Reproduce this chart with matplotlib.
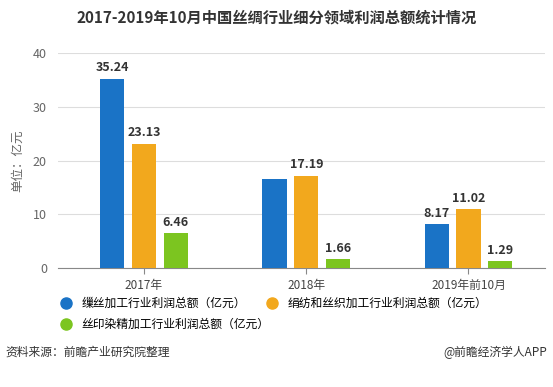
import numpy as np
import matplotlib.pyplot as plt
from matplotlib.lines import Line2D

plt.rcParams['font.family'] = ['Noto Sans CJK SC', 'DejaVu Sans']

categories = ['2017年', '2018年', '2019年前10月']
series_names = ['缫丝加工行业利润总额（亿元）', '绢纺和丝织加工行业利润总额（亿元）', '丝印染精加工行业利润总额（亿元）']
reeling = [35.24, 16.5, 8.17]
weaving = [23.13, 17.19, 11.02]
dyeing = [6.46, 1.66, 1.29]
show_label = [[True, False, True], [True, True, True], [True, True, True]]
colors = ['#1a73c6', '#f2a81d', '#7cc520']

fig = plt.figure(figsize=(5.53, 3.87), dpi=100)
ax = fig.add_axes([0.105, 0.307, 0.88, 0.556])

x = np.arange(len(categories))
width = 0.15
step = 0.196
for i, vals in enumerate([reeling, weaving, dyeing]):
    pos = x + (i - 1) * step + 0.03
    ax.bar(pos, vals, width, color=colors[i], zorder=3)
    for j, (p, v) in enumerate(zip(pos, vals)):
        if show_label[i][j]:
            ax.text(p, v + 0.8, f'{v:.2f}', ha='center', va='bottom',
                    fontsize=9, fontweight='bold', color='#333333')

ax.set_xlim(-0.5, 2.5)
ax.set_ylim(0, 40)
ax.set_yticks([0, 10, 20, 30, 40])
ax.set_xticks(x + 0.03)
ax.set_xticklabels(categories, fontsize=8.5, color='#444444')
ax.tick_params(axis='y', length=0, labelsize=9, labelcolor='#666666', pad=8)
ax.tick_params(axis='x', length=4, color='#888888')
ax.grid(axis='y', color='#dddddd', linewidth=0.8, zorder=0)
for s in ['top', 'right', 'left']:
    ax.spines[s].set_visible(False)
ax.spines['bottom'].set_color('#888888')
ax.set_ylabel('单位：亿元', fontsize=9, color='#666666', labelpad=6)

fig.text(0.5, 0.955, '2017-2019年10月中国丝绸行业细分领域利润总额统计情况',
         ha='center', va='center', fontsize=11, fontweight='bold', color='#333333')

handles = [Line2D([0], [0], marker='o', linestyle='', markersize=8,
                  markerfacecolor=c, markeredgecolor=c) for c in colors]
leg1 = fig.legend(handles[:2], series_names[:2], loc='upper left',
                  bbox_to_anchor=(0.09, 0.245), ncol=2, frameon=False,
                  fontsize=8.5, handletextpad=0.3, columnspacing=1.2,
                  borderaxespad=0)
fig.legend(handles[2:], series_names[2:], loc='upper left',
           bbox_to_anchor=(0.09, 0.19), frameon=False,
           fontsize=8.5, handletextpad=0.3, borderaxespad=0)

fig.text(0.01, 0.09, '资料来源：前瞻产业研究院整理', fontsize=8.5, color='#333333', va='center')
fig.text(0.99, 0.09, '@前瞻经济学人APP', fontsize=8.5, color='#333333', va='center', ha='right')

fig.savefig('out.png', dpi=100)
